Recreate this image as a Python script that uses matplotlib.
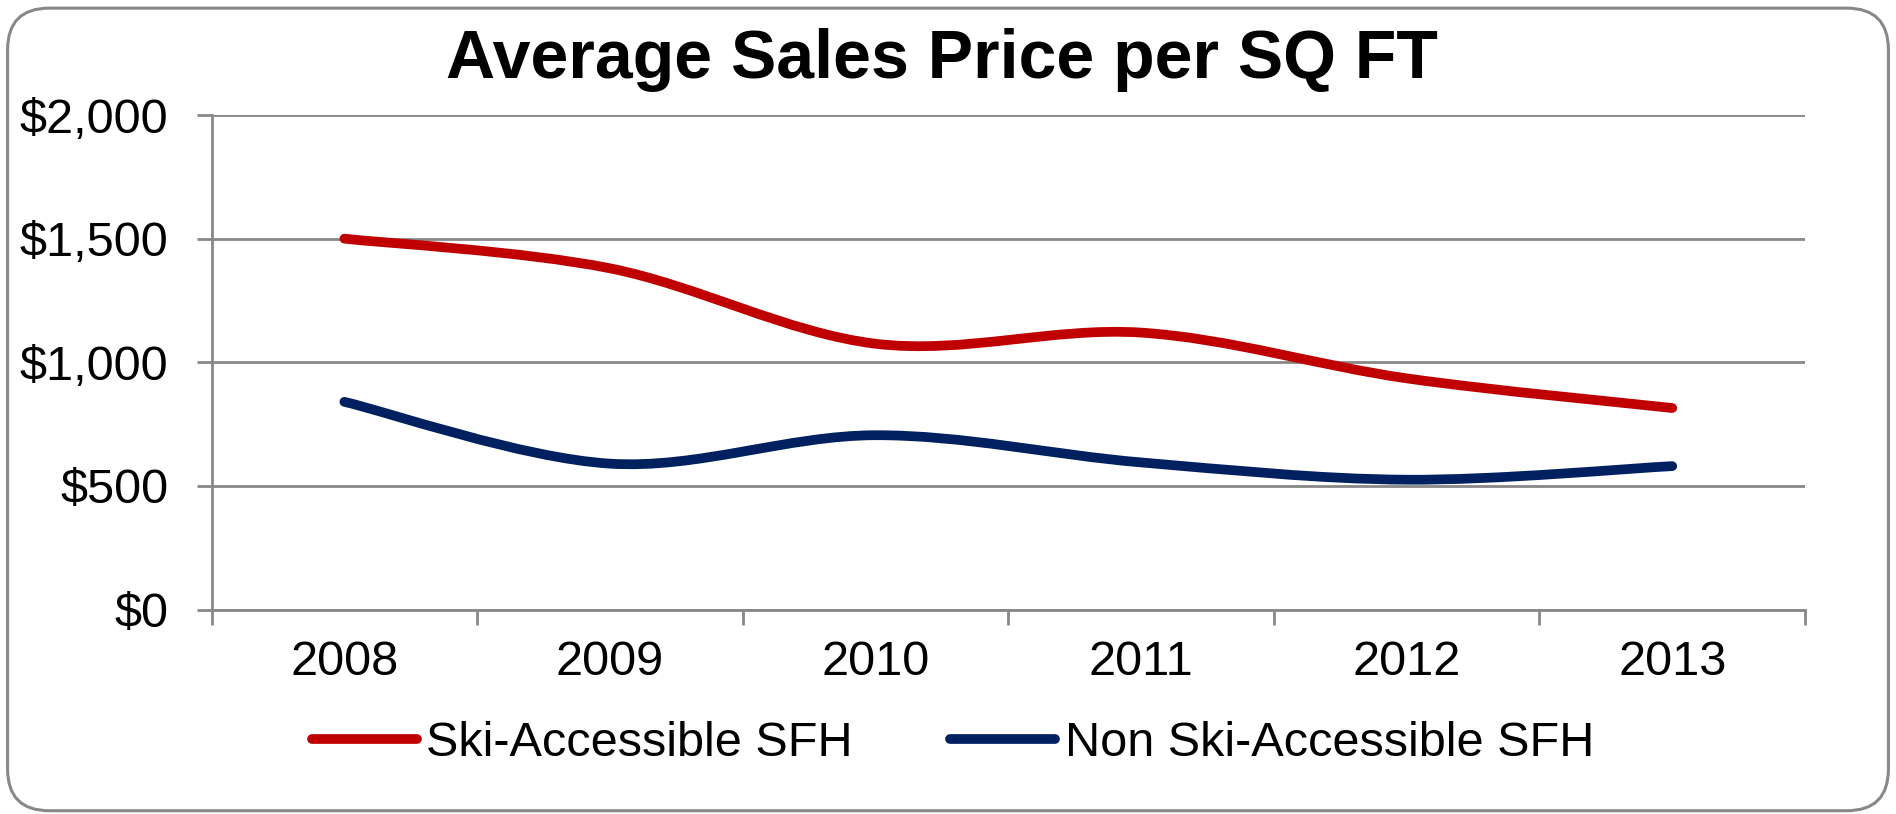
import matplotlib
matplotlib.use("Agg")
import matplotlib.pyplot as plt
from matplotlib.path import Path
from matplotlib.patches import PathPatch, FancyBboxPatch
from matplotlib.lines import Line2D
from matplotlib.ticker import FuncFormatter
import numpy as np

years = ["2008", "2009", "2010", "2011", "2012", "2013"]
ski = [1500, 1380, 1075, 1120, 935, 815]
non_ski = [840, 590, 705, 595, 525, 580]

plt.rcParams["font.family"] = ["Liberation Sans", "DejaVu Sans"]

RED = "#C00000"
NAVY = "#002060"
GRID = "#888888"


def smooth_path(xs, ys):
    # Excel-style smoothed line: cubic bezier with Catmull-Rom control points
    pts = np.column_stack([xs, ys]).astype(float)
    n = len(pts)
    verts = [pts[0]]
    codes = [Path.MOVETO]
    for i in range(n - 1):
        p0 = pts[i - 1] if i > 0 else pts[i]
        p1 = pts[i]
        p2 = pts[i + 1]
        p3 = pts[i + 2] if i + 2 < n else pts[i + 1]
        c1 = p1 + (p2 - p0) / 6.0
        c2 = p2 - (p3 - p1) / 6.0
        verts += [c1, c2, p2]
        codes += [Path.CURVE4] * 3
    return Path(verts, codes)


fig = plt.figure(figsize=(18.96, 8.14), dpi=100)
ax = fig.add_axes([0.1116, 0.2512, 0.8404, 0.6075])

x = np.arange(len(years))
for vals, color in [(ski, RED), (non_ski, NAVY)]:
    patch = PathPatch(smooth_path(x, vals), facecolor="none", edgecolor=color,
                      lw=7, capstyle="round", joinstyle="round", zorder=3)
    ax.add_patch(patch)

ax.set_xlim(-0.5, len(years) - 0.5)
ax.set_ylim(0, 2000)
ax.set_yticks([0, 500, 1000, 1500, 2000])
ax.yaxis.set_major_formatter(FuncFormatter(lambda v, p: f"${v:,.0f}"))
ax.grid(axis="y", color=GRID, lw=2.0)
ax.set_axisbelow(True)

ax.set_xticks(np.arange(-0.5, len(years)))
ax.set_xticklabels([])
ax.set_xticks(x, minor=True)
ax.set_xticklabels(years, minor=True)
ax.tick_params(axis="x", which="minor", length=0, pad=22, labelsize=35)
ax.tick_params(axis="x", which="major", length=11, width=2.0, color=GRID, direction="out")
ax.tick_params(axis="y", length=11, width=2.0, color=GRID, pad=20, labelsize=35)

for side in ["top", "right"]:
    ax.spines[side].set_visible(False)
for side in ["left", "bottom"]:
    ax.spines[side].set_color(GRID)
    ax.spines[side].set_linewidth(2.0)

fig.text(0.497, 0.9042, "Average Sales Price per SQ FT", ha="center", va="baseline",
         fontsize=49, fontweight="bold")

handles = [Line2D([], [], color=RED, lw=7, solid_capstyle="round"),
           Line2D([], [], color=NAVY, lw=7, solid_capstyle="round")]
fig.legend(handles, ["Ski-Accessible SFH", "Non Ski-Accessible SFH"],
           loc="center", bbox_to_anchor=(0.5026, 0.087), ncol=2, frameon=False,
           fontsize=35, handlelength=2.16, handletextpad=0.2, columnspacing=2.0)

frame = FancyBboxPatch((0.004, 0.004), 0.992, 0.986, transform=fig.transFigure,
                       boxstyle="round,pad=0,rounding_size=0.022", mutation_aspect=2.33,
                       facecolor="none", edgecolor=GRID, lw=2.2)
fig.patches.append(frame)

fig.savefig("out.png", dpi=100)
